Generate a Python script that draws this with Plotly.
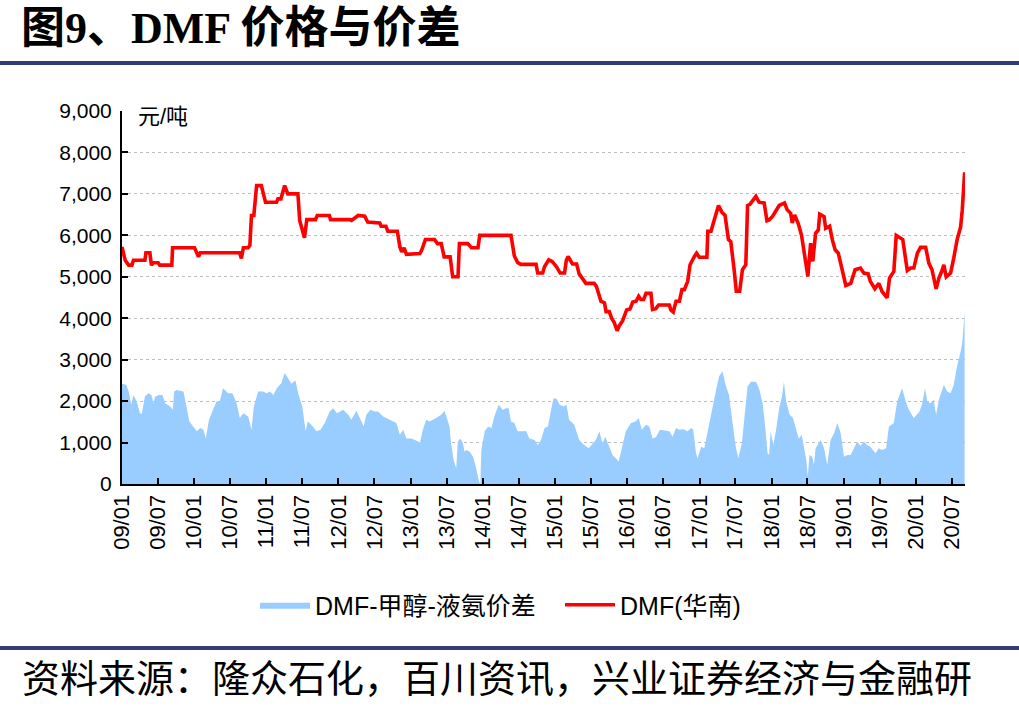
import plotly.graph_objects as go

# ---- DMF(华南) price, 元/吨 ----
price_dates = [
    "2009-01-01", "2009-01-17", "2009-02-04", "2009-02-20", "2009-02-28", "2009-04-27",
    "2009-05-02", "2009-05-22", "2009-05-30", "2009-06-08", "2009-07-03", "2009-07-11",
    "2009-09-10", "2009-09-14", "2010-01-03", "2010-01-23", "2010-02-01", "2010-08-19",
    "2010-08-28", "2010-09-07", "2010-10-01", "2010-10-10", "2010-10-18", "2010-10-30",
    "2010-11-13", "2010-12-07", "2010-12-28", "2011-02-22", "2011-03-01", "2011-03-16",
    "2011-04-04", "2011-04-20", "2011-06-10", "2011-06-19", "2011-07-13", "2011-07-25",
    "2011-09-07", "2011-09-16", "2011-11-16", "2011-11-22", "2012-02-28", "2012-03-07",
    "2012-04-10", "2012-05-13", "2012-05-28", "2012-07-28", "2012-08-04", "2012-08-28",
    "2012-09-07", "2012-10-25", "2012-11-07", "2012-11-16", "2012-11-28", "2012-12-10",
    "2013-02-16", "2013-02-25", "2013-03-16", "2013-05-01", "2013-05-16", "2013-06-04",
    "2013-06-19", "2013-07-19", "2013-08-01", "2013-08-28", "2013-09-04", "2013-10-16",
    "2013-11-04", "2013-12-07", "2013-12-16", "2014-05-23", "2014-06-09", "2014-06-26",
    "2014-07-13", "2014-09-27", "2014-10-05", "2014-10-30", "2014-11-09", "2014-11-30",
    "2014-12-17", "2015-01-07", "2015-01-27", "2015-02-18", "2015-02-27", "2015-03-08",
    "2015-03-30", "2015-04-20", "2015-05-03", "2015-05-20", "2015-06-06", "2015-07-18",
    "2015-07-29", "2015-08-21", "2015-09-08", "2015-09-16", "2015-10-02", "2015-10-16",
    "2015-10-27", "2015-11-11", "2015-11-22", "2015-12-09", "2015-12-29", "2016-01-15",
    "2016-01-29", "2016-02-15", "2016-02-28", "2016-03-10", "2016-03-24", "2016-04-05",
    "2016-04-30", "2016-05-08", "2016-05-25", "2016-06-08", "2016-08-01", "2016-08-09",
    "2016-08-21", "2016-09-04", "2016-09-21", "2016-10-04", "2016-10-16", "2016-11-02",
    "2016-11-14", "2016-12-06", "2016-12-17", "2016-12-31", "2017-02-07", "2017-02-12",
    "2017-02-28", "2017-03-10", "2017-03-24", "2017-04-07", "2017-04-24", "2017-05-10",
    "2017-05-27", "2017-06-08", "2017-06-25", "2017-07-06", "2017-07-23", "2017-08-06",
    "2017-08-23", "2017-09-01", "2017-09-13", "2017-09-26", "2017-10-13", "2017-10-29",
    "2017-11-24", "2017-12-08", "2017-12-19", "2018-01-06", "2018-01-26", "2018-02-08",
    "2018-03-07", "2018-03-20", "2018-04-07", "2018-04-15", "2018-04-27", "2018-05-15",
    "2018-06-01", "2018-06-13", "2018-07-03", "2018-07-17", "2018-07-28", "2018-08-11",
    "2018-08-25", "2018-09-01", "2018-09-23", "2018-10-01", "2018-10-21", "2018-11-04",
    "2018-11-18", "2018-12-04", "2018-12-24", "2019-01-11", "2019-02-05", "2019-02-27",
    "2019-03-26", "2019-04-12", "2019-05-04", "2019-05-15", "2019-06-07", "2019-06-27",
    "2019-07-13", "2019-08-08", "2019-08-20", "2019-09-11", "2019-09-23", "2019-10-26",
    "2019-11-18", "2019-12-05", "2019-12-21", "2020-01-08", "2020-01-24", "2020-02-19",
    "2020-03-06", "2020-03-22", "2020-04-12", "2020-04-26", "2020-05-12", "2020-05-21",
    "2020-06-02", "2020-06-24", "2020-07-10", "2020-07-27", "2020-08-14", "2020-08-22",
    "2020-09-03",
]
price_values = [
    5720, 5400, 5280, 5280, 5400, 5400,
    5580, 5580, 5280, 5340, 5340, 5280,
    5280, 5700, 5700, 5480, 5580, 5580,
    5440, 5700, 5700, 5760, 6480, 6480,
    7200, 7200, 6800, 6800, 6880, 6880,
    7200, 7000, 7000, 6360, 5940, 6380,
    6380, 6480, 6480, 6380, 6380, 6360,
    6480, 6460, 6320, 6300, 6220, 6220,
    6100, 6100, 5720, 5600, 5700, 5540,
    5560, 5640, 5900, 5900, 5800, 5800,
    5480, 5480, 5000, 5000, 5800, 5800,
    5700, 5700, 6000, 6000, 5500, 5340,
    5300, 5300, 5090, 5090, 5250, 5410,
    5370, 5250, 5090, 5090, 5400, 5490,
    5310, 5310, 5070, 4970, 4840, 4840,
    4770, 4410, 4370, 4160, 4160, 3980,
    3900, 3700, 3820, 3940, 4200, 4220,
    4390, 4410, 4530, 4450, 4450, 4600,
    4600, 4210, 4230, 4320, 4320, 4200,
    4150, 4410, 4410, 4690, 4690, 4890,
    5290, 5490, 5570, 5470, 5470, 6100,
    6100, 6270, 6540, 6720, 6560, 6480,
    5900, 5850, 5170, 4650, 4650, 5170,
    5290, 6720, 6750, 6840, 6940, 6800,
    6780, 6350, 6370, 6460, 6620, 6720,
    6780, 6620, 6530, 6300, 6490, 6290,
    6000, 5660, 5010, 5810, 5370, 6050,
    6130, 6510, 6450, 6170, 6220, 5890,
    5650, 5570, 5130, 4790, 4840, 5170,
    5210, 5090, 5070, 4890, 4710, 4840,
    4650, 4490, 4970, 5130, 6000, 5900,
    5150, 5210, 5210, 5570, 5710, 5710,
    5330, 5170, 4710, 4970, 5150, 5290,
    5000, 5090, 5450, 5890, 6210, 6600,
    7520,
]

# ---- DMF-甲醇-液氨价差, 元/吨 ----
spread_dates = [
    "2009-01-01", "2009-01-23", "2009-02-04", "2009-02-16", "2009-02-28", "2009-03-16",
    "2009-04-02", "2009-04-11", "2009-04-27", "2009-05-14", "2009-05-30", "2009-06-09",
    "2009-06-17", "2009-07-04", "2009-07-25", "2009-08-07", "2009-09-02", "2009-09-15",
    "2009-09-22", "2009-10-05", "2009-11-08", "2009-11-21", "2009-12-08", "2009-12-20",
    "2010-01-15", "2010-02-01", "2010-02-17", "2010-03-01", "2010-03-17", "2010-04-07",
    "2010-04-24", "2010-05-11", "2010-05-27", "2010-06-22", "2010-07-14", "2010-08-04",
    "2010-08-20", "2010-09-07", "2010-10-02", "2010-10-18", "2010-10-30", "2010-11-21",
    "2010-12-16", "2011-01-03", "2011-01-20", "2011-02-06", "2011-02-23", "2011-03-18",
    "2011-04-04", "2011-04-21", "2011-05-08", "2011-05-29", "2011-06-11", "2011-07-02",
    "2011-07-19", "2011-07-30", "2011-08-17", "2011-09-12", "2011-10-02", "2011-10-24",
    "2011-11-18", "2011-12-05", "2011-12-25", "2012-01-25", "2012-02-20", "2012-03-06",
    "2012-04-01", "2012-04-18", "2012-05-08", "2012-05-21", "2012-06-11", "2012-07-02",
    "2012-07-19", "2012-08-14", "2012-08-30", "2012-10-04", "2012-10-20", "2012-11-07",
    "2012-11-23", "2012-12-10", "2013-01-05", "2013-01-22", "2013-02-17", "2013-03-03",
    "2013-03-20", "2013-04-06", "2013-04-23", "2013-05-09", "2013-06-04", "2013-06-21",
    "2013-07-16", "2013-07-24", "2013-08-06", "2013-08-19", "2013-08-27", "2013-09-09",
    "2013-09-22", "2013-09-30", "2013-10-09", "2013-10-26", "2013-11-12", "2013-11-28",
    "2013-12-12", "2013-12-19", "2013-12-24", "2014-01-10", "2014-01-27", "2014-02-13",
    "2014-02-28", "2014-03-21", "2014-04-11", "2014-04-28", "2014-05-11", "2014-05-23",
    "2014-06-09", "2014-06-26", "2014-07-21", "2014-08-08", "2014-08-24", "2014-09-19",
    "2014-10-06", "2014-10-22", "2014-11-09", "2014-11-26", "2014-12-12", "2014-12-24",
    "2015-01-10", "2015-01-24", "2015-02-13", "2015-02-28", "2015-03-13", "2015-04-08",
    "2015-05-03", "2015-05-28", "2015-06-20", "2015-07-09", "2015-07-26", "2015-08-13",
    "2015-08-29", "2015-09-12", "2015-09-29", "2015-10-19", "2015-11-19", "2015-12-05",
    "2015-12-25", "2016-01-20", "2016-02-12", "2016-02-28", "2016-03-15", "2016-04-05",
    "2016-04-22", "2016-05-08", "2016-05-25", "2016-06-15", "2016-07-06", "2016-08-01",
    "2016-08-18", "2016-09-04", "2016-09-21", "2016-10-11", "2016-11-02", "2016-11-19",
    "2016-11-30", "2016-12-14", "2016-12-22", "2017-01-09", "2017-01-25", "2017-02-12",
    "2017-03-07", "2017-03-24", "2017-04-10", "2017-04-27", "2017-05-13", "2017-05-30",
    "2017-06-17", "2017-07-03", "2017-07-16", "2017-08-03", "2017-08-20", "2017-09-01",
    "2017-09-18", "2017-10-13", "2017-10-29", "2017-11-16", "2017-11-29", "2017-12-11",
    "2017-12-19", "2017-12-27", "2018-01-09", "2018-01-22", "2018-02-08", "2018-02-22",
    "2018-03-04", "2018-03-15", "2018-04-02", "2018-04-19", "2018-05-05", "2018-05-18",
    "2018-06-02", "2018-06-13", "2018-06-25", "2018-07-03", "2018-07-11", "2018-07-25",
    "2018-08-03", "2018-08-11", "2018-08-25", "2018-09-06", "2018-09-23", "2018-10-09",
    "2018-10-26", "2018-11-13", "2018-11-29", "2018-12-16", "2019-01-02", "2019-01-19",
    "2019-02-05", "2019-02-22", "2019-03-09", "2019-03-26", "2019-04-12", "2019-04-29",
    "2019-05-15", "2019-06-10", "2019-06-27", "2019-07-13", "2019-08-03", "2019-08-17",
    "2019-09-11", "2019-09-28", "2019-10-23", "2019-11-10", "2019-11-26", "2019-12-21",
    "2020-01-19", "2020-02-02", "2020-02-16", "2020-02-27", "2020-03-14", "2020-03-30",
    "2020-04-12", "2020-04-26", "2020-05-21", "2020-06-07", "2020-06-24", "2020-07-10",
    "2020-07-27", "2020-08-14", "2020-08-22", "2020-09-03",
]
spread_values = [
    2420, 2390, 2230, 1910, 2150, 1990,
    1710, 1690, 2110, 2190, 2150, 1950,
    2100, 2150, 2150, 1950, 1870, 1790,
    2230, 2270, 2230, 1950, 1510, 1430,
    1270, 1350, 1310, 1100, 1550, 1790,
    1990, 1990, 2310, 2190, 2190, 1950,
    1590, 1710, 1630, 1310, 1870, 2230,
    2230, 2190, 2230, 2150, 2310, 2430,
    2680, 2560, 2420, 2500, 2190, 1870,
    1270, 1510, 1430, 1270, 1310, 1470,
    1750, 1830, 1710, 1790, 1670, 1550,
    1770, 1590, 1390, 1670, 1790, 1750,
    1750, 1630, 1590, 1510, 1470, 1180,
    1310, 1100, 1100, 1060, 1000, 1310,
    1550, 1510, 1550, 1590, 1670, 1770,
    1390, 980, 580, 380, 1020, 1100,
    980, 780, 820, 780, 660, 380,
    60, 0, 820, 1270, 1390, 1350,
    1630, 1910, 1790, 1830, 1830, 1510,
    1470, 1270, 1270, 1280, 1100, 1060,
    940, 1060, 1350, 1390, 1790, 2070,
    2050, 1910, 1870, 1910, 1550, 1430,
    1060, 940, 860, 980, 1060, 1270,
    980, 1140, 940, 700, 540, 900,
    1270, 1470, 1510, 1590, 1310, 1430,
    1390, 1100, 1130, 1310, 1290, 1270,
    1140, 1350, 1310, 1320, 1270, 1350,
    1310, 740, 620, 900, 860, 1310,
    1790, 2230, 2600, 2720, 2390, 2150,
    1470, 900, 620, 980, 1790, 2350,
    2470, 2470, 2310, 1950, 1390, 740,
    700, 1270, 940, 1270, 1830, 2110,
    2470, 1990, 1670, 1590, 1310, 1100,
    1180, 860, 580, 180, 700, 660,
    460, 860, 980, 1060, 860, 460,
    1060, 1230, 1470, 1230, 660, 700,
    700, 860, 1020, 920, 1020, 940,
    900, 740, 860, 820, 860, 1390,
    1470, 1990, 2310, 1990, 1790, 1590,
    1750, 1950, 2310, 1990, 1950, 2030,
    1670, 2030, 2390, 2230, 2190, 2390,
    2840, 3200, 3400, 4150,
]

# ---- axis ticks ----
tick_dates = [f"{y}-{m:02d}-01" for y in range(2009, 2021) for m in (1, 7)]
tick_labels = [f"{y % 100:02d}/{m:02d}" for y in range(2009, 2021) for m in (1, 7)]
y_ticks = [0, 1000, 2000, 3000, 4000, 5000, 6000, 7000, 8000, 9000]

SANS = "Arial, Liberation Sans, Noto Sans CJK SC, sans-serif"

fig = go.Figure()
fig.add_trace(go.Scatter(
    x=spread_dates, y=spread_values, name="DMF-甲醇-液氨价差",
    mode="lines", line=dict(width=0, color="#99CCFF"),
    fill="tozeroy", fillcolor="#99CCFF",
))
fig.add_trace(go.Scatter(
    x=price_dates, y=price_values, name="DMF(华南)",
    mode="lines", line=dict(width=3.6, color="#FF0000"),
))

W, H = 1019, 709
L, R, T, B = 122, 54, 111, 225
PW, PH = W - L - R, H - T - B


def px(x):
    return (x - L) / PW


def py(y):
    return (H - B - y) / PH


fig.update_layout(
    width=W, height=H,
    margin=dict(l=L, r=R, t=T, b=B),
    paper_bgcolor="white", plot_bgcolor="white",
    font=dict(family=SANS, size=21, color="black"),
    title=dict(
        text="图9、DMF 价格与价差",
        font=dict(family="Liberation Serif, Noto Sans CJK SC, serif", size=44, color="black", weight="bold"),
        x=21 / W, xref="container", xanchor="left",
        y=1 - 28 / H, yref="container", yanchor="middle",
    ),
    xaxis=dict(
        type="date", range=["2009-01-01", "2020-09-05"],
        tickmode="array", tickvals=tick_dates, ticktext=tick_labels,
        tickangle=-90, tickfont=dict(size=22),
        ticks="inside", ticklen=6, tickwidth=1.5, tickcolor="black",
        showline=True, linecolor="black", linewidth=2,
        showgrid=False, zeroline=False,
    ),
    yaxis=dict(
        range=[0, 9000], tickmode="array", tickvals=y_ticks,
        tickformat=",", tickfont=dict(size=21),
        ticks="inside", ticklen=6, tickwidth=1.5, tickcolor="black",
        showline=True, linecolor="black", linewidth=2,
        showgrid=True, gridcolor="#BDBDBD", gridwidth=1, griddash="3px,3px",
        zeroline=False, ticklabelstandoff=4,
    ),
    legend=dict(
        orientation="h", x=px(255), xanchor="left", y=py(605), yanchor="middle",
        font=dict(size=25), itemwidth=50, entrywidth=240, entrywidthmode="pixels",
        bgcolor="rgba(0,0,0,0)", traceorder="normal",
    ),
    showlegend=True,
)

fig.add_annotation(
    text="元/吨", x=px(136), y=py(116), xref="paper", yref="paper",
    xanchor="left", yanchor="middle", showarrow=False,
    font=dict(size=22, family=SANS),
)
fig.add_annotation(
    text="资料来源：隆众石化，百川资讯，兴业证券经济与金融研",
    x=px(20), y=py(675), xref="paper", yref="paper",
    xanchor="left", yanchor="middle", align="left", showarrow=False,
    font=dict(size=38, family="Noto Sans CJK SC, sans-serif"),
)
fig.add_annotation(
    text="究院整理",
    x=px(20), y=py(697), xref="paper", yref="paper",
    xanchor="left", yanchor="top", align="left", showarrow=False,
    font=dict(size=38, family="Noto Sans CJK SC, sans-serif"),
)

# horizontal rules under the title and above the source note
for yy in (63, 648):
    fig.add_shape(type="line", xref="paper", yref="paper",
                  x0=px(0), x1=px(W), y0=py(yy), y1=py(yy),
                  line=dict(color="#333C74", width=4))

fig.write_html("out.html")
